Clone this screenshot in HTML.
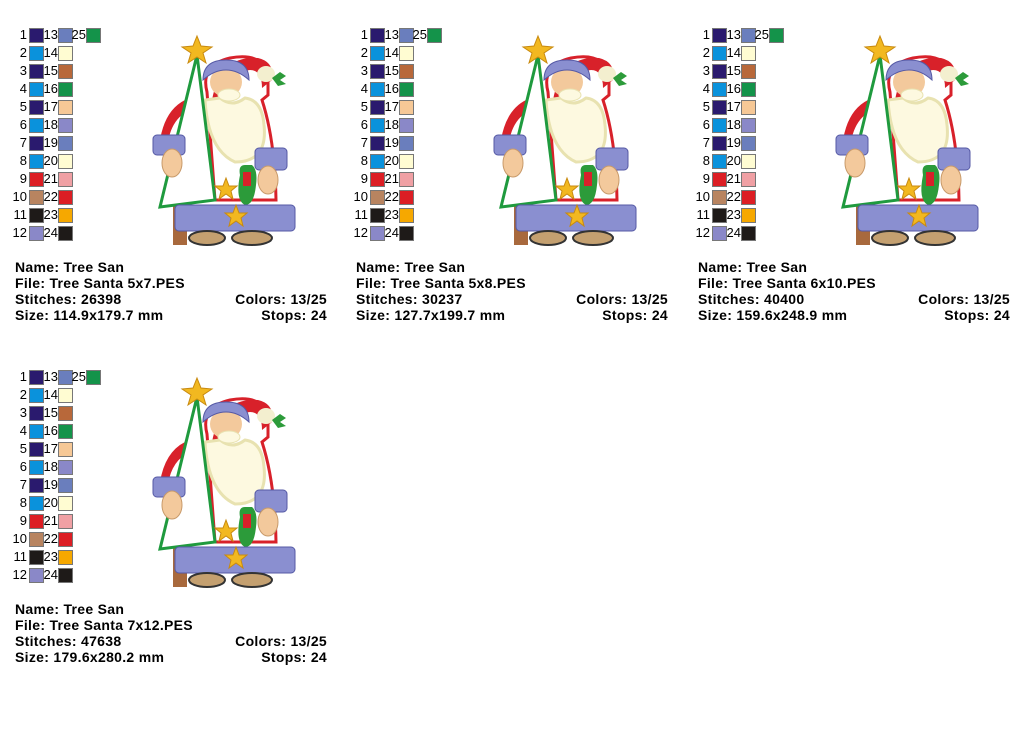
<!DOCTYPE html>
<html><head><meta charset="utf-8"><style>
body{margin:0;width:1024px;height:752px;background:#fff;position:relative;overflow:hidden;font-family:"Liberation Sans",Arial,sans-serif}
.p{position:absolute;width:340px;height:340px}
.r{position:absolute;left:0;height:18px;font-size:13px;line-height:16px;color:#000}
.n{position:absolute;text-align:right;width:15px}
.s{position:absolute;top:1px;width:13px;height:13px;border:1px solid #777}
.t{position:absolute;left:0;font-size:14px;font-weight:bold;line-height:16px;white-space:nowrap;letter-spacing:0.3px}
.rt{position:absolute;font-size:14px;font-weight:bold;line-height:16px;right:13px;text-align:right;white-space:nowrap;letter-spacing:0.3px}
svg{position:absolute;left:0;top:0}
</style></head><body>
<svg width="0" height="0" style="position:absolute">
<defs>
<g id="santa">
<rect x="173" y="195" width="14" height="50" fill="#a8693d"/>
<path d="M207 92 Q200 65 230 58 Q262 52 268 75 L268 95 L262 100 Q275 140 276 200 L215 200 Z" fill="#fff" stroke="#d8212a" stroke-width="3"/>
<path d="M160 140 Q165 110 185 100 L190 110 Q172 118 168 142 Z" fill="#d8212a"/>
<path d="M212 100 Q220 55 258 58 Q275 62 272 80 L262 88 Q262 70 250 70 Q230 72 222 100 Z" fill="#d8212a"/>
<ellipse cx="266" cy="74" rx="9" ry="8" fill="#f3efcf"/>
<path d="M272 78 l8 -6 l6 4 l-6 4 l6 4 l-8 2 Z" fill="#2c9b3a"/>
<path d="M205 100 Q208 150 235 162 Q268 162 264 125 Q262 100 245 98 Q232 108 220 98 Z" fill="#fdf9e0" stroke="#e8e2b0" stroke-width="3"/>
<ellipse cx="226" cy="82" rx="16" ry="15" fill="#f3c99c"/>
<path d="M203 80 Q203 60 226 60 Q249 60 249 80 Q238 70 226 70 Q214 70 203 80 Z" fill="#8a8fd0" stroke="#5559a5"/>
<ellipse cx="229" cy="95" rx="11" ry="6" fill="#fdf9e0" stroke="#e8e2b0"/>
<polygon points="197,55 160,207 215,200" fill="#fff" stroke="#1f9a3e" stroke-width="3"/>
<polygon points="197,36 201,46 212,47 203,53 206,63 197,57 188,63 191,53 182,47 193,46" fill="#f2b820" stroke="#c88a10"/>
<rect x="153" y="135" width="32" height="20" rx="4" fill="#8a8fd0" stroke="#5559a5"/>
<ellipse cx="172" cy="163" rx="10" ry="14" fill="#f3c99c" stroke="#c89a6a"/>
<rect x="255" y="148" width="32" height="22" rx="4" fill="#8a8fd0" stroke="#5559a5"/>
<ellipse cx="268" cy="180" rx="10" ry="14" fill="#f3c99c" stroke="#c89a6a"/>
<path d="M240 175 Q238 165 245 165 L252 165 Q258 170 256 185 Q254 205 245 205 Q235 200 240 175 Z" fill="#2c9b3a"/>
<rect x="243" y="172" width="8" height="14" fill="#d8212a"/>
<rect x="175" y="205" width="120" height="26" rx="4" fill="#8a8fd0" stroke="#5559a5"/>
<polygon points="226,178 229,186 237,186 231,191 233,199 226,194 219,199 221,191 215,186 223,186" fill="#f2b820" stroke="#c88a10"/>
<polygon points="236,205 239,213 247,213 241,218 243,226 236,221 229,226 231,218 225,213 233,213" fill="#f2b820" stroke="#c88a10"/>
<ellipse cx="207" cy="238" rx="18" ry="7" fill="#c4a070" stroke="#333" stroke-width="2"/>
<ellipse cx="252" cy="238" rx="20" ry="7" fill="#c4a070" stroke="#333" stroke-width="2"/>
</g>
</defs></svg>

<div class="p" style="left:0;top:0">
<svg width="340" height="340"><use href="#santa"/></svg>
<div class="r" style="top:27px;width:110px"><span class="n" style="left:12px">1</span><span class="s" style="left:29px;background:#2a1a6e"></span><span class="n" style="left:43px">13</span><span class="s" style="left:58px;background:#6a7ebd"></span><span class="n" style="left:71px">25</span><span class="s" style="left:86px;background:#14934a"></span></div>
<div class="r" style="top:45px;width:80px"><span class="n" style="left:12px">2</span><span class="s" style="left:29px;background:#0a92dc"></span><span class="n" style="left:43px">14</span><span class="s" style="left:58px;background:#fffcd2"></span></div>
<div class="r" style="top:63px;width:80px"><span class="n" style="left:12px">3</span><span class="s" style="left:29px;background:#2a1a6e"></span><span class="n" style="left:43px">15</span><span class="s" style="left:58px;background:#b8683a"></span></div>
<div class="r" style="top:81px;width:80px"><span class="n" style="left:12px">4</span><span class="s" style="left:29px;background:#0a92dc"></span><span class="n" style="left:43px">16</span><span class="s" style="left:58px;background:#14934a"></span></div>
<div class="r" style="top:99px;width:80px"><span class="n" style="left:12px">5</span><span class="s" style="left:29px;background:#2a1a6e"></span><span class="n" style="left:43px">17</span><span class="s" style="left:58px;background:#f6c896"></span></div>
<div class="r" style="top:117px;width:80px"><span class="n" style="left:12px">6</span><span class="s" style="left:29px;background:#0a92dc"></span><span class="n" style="left:43px">18</span><span class="s" style="left:58px;background:#8a88c8"></span></div>
<div class="r" style="top:135px;width:80px"><span class="n" style="left:12px">7</span><span class="s" style="left:29px;background:#2a1a6e"></span><span class="n" style="left:43px">19</span><span class="s" style="left:58px;background:#6a7ebd"></span></div>
<div class="r" style="top:153px;width:80px"><span class="n" style="left:12px">8</span><span class="s" style="left:29px;background:#0a92dc"></span><span class="n" style="left:43px">20</span><span class="s" style="left:58px;background:#fffcd2"></span></div>
<div class="r" style="top:171px;width:80px"><span class="n" style="left:12px">9</span><span class="s" style="left:29px;background:#dc1e24"></span><span class="n" style="left:43px">21</span><span class="s" style="left:58px;background:#f0a0a4"></span></div>
<div class="r" style="top:189px;width:80px"><span class="n" style="left:12px">10</span><span class="s" style="left:29px;background:#b88460"></span><span class="n" style="left:43px">22</span><span class="s" style="left:58px;background:#dc1e24"></span></div>
<div class="r" style="top:207px;width:80px"><span class="n" style="left:12px">11</span><span class="s" style="left:29px;background:#1e1a18"></span><span class="n" style="left:43px">23</span><span class="s" style="left:58px;background:#f6a800"></span></div>
<div class="r" style="top:225px;width:80px"><span class="n" style="left:12px">12</span><span class="s" style="left:29px;background:#8a88c8"></span><span class="n" style="left:43px">24</span><span class="s" style="left:58px;background:#1e1a18"></span></div>
<div class="t" style="left:15px;top:259px">Name: Tree San</div>
<div class="t" style="left:15px;top:275px">File: Tree Santa 5x7.PES</div>
<div class="t" style="left:15px;top:291px">Stitches: 26398</div>
<div class="t" style="left:15px;top:307px">Size: 114.9x179.7 mm</div>
<div class="rt" style="top:291px">Colors: 13/25</div>
<div class="rt" style="top:307px">Stops: 24</div>
</div>

<div class="p" style="left:341px;top:0">
<svg width="340" height="340"><use href="#santa"/></svg>
<div class="r" style="top:27px;width:110px"><span class="n" style="left:12px">1</span><span class="s" style="left:29px;background:#2a1a6e"></span><span class="n" style="left:43px">13</span><span class="s" style="left:58px;background:#6a7ebd"></span><span class="n" style="left:71px">25</span><span class="s" style="left:86px;background:#14934a"></span></div>
<div class="r" style="top:45px;width:80px"><span class="n" style="left:12px">2</span><span class="s" style="left:29px;background:#0a92dc"></span><span class="n" style="left:43px">14</span><span class="s" style="left:58px;background:#fffcd2"></span></div>
<div class="r" style="top:63px;width:80px"><span class="n" style="left:12px">3</span><span class="s" style="left:29px;background:#2a1a6e"></span><span class="n" style="left:43px">15</span><span class="s" style="left:58px;background:#b8683a"></span></div>
<div class="r" style="top:81px;width:80px"><span class="n" style="left:12px">4</span><span class="s" style="left:29px;background:#0a92dc"></span><span class="n" style="left:43px">16</span><span class="s" style="left:58px;background:#14934a"></span></div>
<div class="r" style="top:99px;width:80px"><span class="n" style="left:12px">5</span><span class="s" style="left:29px;background:#2a1a6e"></span><span class="n" style="left:43px">17</span><span class="s" style="left:58px;background:#f6c896"></span></div>
<div class="r" style="top:117px;width:80px"><span class="n" style="left:12px">6</span><span class="s" style="left:29px;background:#0a92dc"></span><span class="n" style="left:43px">18</span><span class="s" style="left:58px;background:#8a88c8"></span></div>
<div class="r" style="top:135px;width:80px"><span class="n" style="left:12px">7</span><span class="s" style="left:29px;background:#2a1a6e"></span><span class="n" style="left:43px">19</span><span class="s" style="left:58px;background:#6a7ebd"></span></div>
<div class="r" style="top:153px;width:80px"><span class="n" style="left:12px">8</span><span class="s" style="left:29px;background:#0a92dc"></span><span class="n" style="left:43px">20</span><span class="s" style="left:58px;background:#fffcd2"></span></div>
<div class="r" style="top:171px;width:80px"><span class="n" style="left:12px">9</span><span class="s" style="left:29px;background:#dc1e24"></span><span class="n" style="left:43px">21</span><span class="s" style="left:58px;background:#f0a0a4"></span></div>
<div class="r" style="top:189px;width:80px"><span class="n" style="left:12px">10</span><span class="s" style="left:29px;background:#b88460"></span><span class="n" style="left:43px">22</span><span class="s" style="left:58px;background:#dc1e24"></span></div>
<div class="r" style="top:207px;width:80px"><span class="n" style="left:12px">11</span><span class="s" style="left:29px;background:#1e1a18"></span><span class="n" style="left:43px">23</span><span class="s" style="left:58px;background:#f6a800"></span></div>
<div class="r" style="top:225px;width:80px"><span class="n" style="left:12px">12</span><span class="s" style="left:29px;background:#8a88c8"></span><span class="n" style="left:43px">24</span><span class="s" style="left:58px;background:#1e1a18"></span></div>
<div class="t" style="left:15px;top:259px">Name: Tree San</div>
<div class="t" style="left:15px;top:275px">File: Tree Santa 5x8.PES</div>
<div class="t" style="left:15px;top:291px">Stitches: 30237</div>
<div class="t" style="left:15px;top:307px">Size: 127.7x199.7 mm</div>
<div class="rt" style="top:291px">Colors: 13/25</div>
<div class="rt" style="top:307px">Stops: 24</div>
</div>

<div class="p" style="left:683px;top:0">
<svg width="340" height="340"><use href="#santa"/></svg>
<div class="r" style="top:27px;width:110px"><span class="n" style="left:12px">1</span><span class="s" style="left:29px;background:#2a1a6e"></span><span class="n" style="left:43px">13</span><span class="s" style="left:58px;background:#6a7ebd"></span><span class="n" style="left:71px">25</span><span class="s" style="left:86px;background:#14934a"></span></div>
<div class="r" style="top:45px;width:80px"><span class="n" style="left:12px">2</span><span class="s" style="left:29px;background:#0a92dc"></span><span class="n" style="left:43px">14</span><span class="s" style="left:58px;background:#fffcd2"></span></div>
<div class="r" style="top:63px;width:80px"><span class="n" style="left:12px">3</span><span class="s" style="left:29px;background:#2a1a6e"></span><span class="n" style="left:43px">15</span><span class="s" style="left:58px;background:#b8683a"></span></div>
<div class="r" style="top:81px;width:80px"><span class="n" style="left:12px">4</span><span class="s" style="left:29px;background:#0a92dc"></span><span class="n" style="left:43px">16</span><span class="s" style="left:58px;background:#14934a"></span></div>
<div class="r" style="top:99px;width:80px"><span class="n" style="left:12px">5</span><span class="s" style="left:29px;background:#2a1a6e"></span><span class="n" style="left:43px">17</span><span class="s" style="left:58px;background:#f6c896"></span></div>
<div class="r" style="top:117px;width:80px"><span class="n" style="left:12px">6</span><span class="s" style="left:29px;background:#0a92dc"></span><span class="n" style="left:43px">18</span><span class="s" style="left:58px;background:#8a88c8"></span></div>
<div class="r" style="top:135px;width:80px"><span class="n" style="left:12px">7</span><span class="s" style="left:29px;background:#2a1a6e"></span><span class="n" style="left:43px">19</span><span class="s" style="left:58px;background:#6a7ebd"></span></div>
<div class="r" style="top:153px;width:80px"><span class="n" style="left:12px">8</span><span class="s" style="left:29px;background:#0a92dc"></span><span class="n" style="left:43px">20</span><span class="s" style="left:58px;background:#fffcd2"></span></div>
<div class="r" style="top:171px;width:80px"><span class="n" style="left:12px">9</span><span class="s" style="left:29px;background:#dc1e24"></span><span class="n" style="left:43px">21</span><span class="s" style="left:58px;background:#f0a0a4"></span></div>
<div class="r" style="top:189px;width:80px"><span class="n" style="left:12px">10</span><span class="s" style="left:29px;background:#b88460"></span><span class="n" style="left:43px">22</span><span class="s" style="left:58px;background:#dc1e24"></span></div>
<div class="r" style="top:207px;width:80px"><span class="n" style="left:12px">11</span><span class="s" style="left:29px;background:#1e1a18"></span><span class="n" style="left:43px">23</span><span class="s" style="left:58px;background:#f6a800"></span></div>
<div class="r" style="top:225px;width:80px"><span class="n" style="left:12px">12</span><span class="s" style="left:29px;background:#8a88c8"></span><span class="n" style="left:43px">24</span><span class="s" style="left:58px;background:#1e1a18"></span></div>
<div class="t" style="left:15px;top:259px">Name: Tree San</div>
<div class="t" style="left:15px;top:275px">File: Tree Santa 6x10.PES</div>
<div class="t" style="left:15px;top:291px">Stitches: 40400</div>
<div class="t" style="left:15px;top:307px">Size: 159.6x248.9 mm</div>
<div class="rt" style="top:291px">Colors: 13/25</div>
<div class="rt" style="top:307px">Stops: 24</div>
</div>

<div class="p" style="left:0;top:342px">
<svg width="340" height="340"><use href="#santa"/></svg>
<div class="r" style="top:27px;width:110px"><span class="n" style="left:12px">1</span><span class="s" style="left:29px;background:#2a1a6e"></span><span class="n" style="left:43px">13</span><span class="s" style="left:58px;background:#6a7ebd"></span><span class="n" style="left:71px">25</span><span class="s" style="left:86px;background:#14934a"></span></div>
<div class="r" style="top:45px;width:80px"><span class="n" style="left:12px">2</span><span class="s" style="left:29px;background:#0a92dc"></span><span class="n" style="left:43px">14</span><span class="s" style="left:58px;background:#fffcd2"></span></div>
<div class="r" style="top:63px;width:80px"><span class="n" style="left:12px">3</span><span class="s" style="left:29px;background:#2a1a6e"></span><span class="n" style="left:43px">15</span><span class="s" style="left:58px;background:#b8683a"></span></div>
<div class="r" style="top:81px;width:80px"><span class="n" style="left:12px">4</span><span class="s" style="left:29px;background:#0a92dc"></span><span class="n" style="left:43px">16</span><span class="s" style="left:58px;background:#14934a"></span></div>
<div class="r" style="top:99px;width:80px"><span class="n" style="left:12px">5</span><span class="s" style="left:29px;background:#2a1a6e"></span><span class="n" style="left:43px">17</span><span class="s" style="left:58px;background:#f6c896"></span></div>
<div class="r" style="top:117px;width:80px"><span class="n" style="left:12px">6</span><span class="s" style="left:29px;background:#0a92dc"></span><span class="n" style="left:43px">18</span><span class="s" style="left:58px;background:#8a88c8"></span></div>
<div class="r" style="top:135px;width:80px"><span class="n" style="left:12px">7</span><span class="s" style="left:29px;background:#2a1a6e"></span><span class="n" style="left:43px">19</span><span class="s" style="left:58px;background:#6a7ebd"></span></div>
<div class="r" style="top:153px;width:80px"><span class="n" style="left:12px">8</span><span class="s" style="left:29px;background:#0a92dc"></span><span class="n" style="left:43px">20</span><span class="s" style="left:58px;background:#fffcd2"></span></div>
<div class="r" style="top:171px;width:80px"><span class="n" style="left:12px">9</span><span class="s" style="left:29px;background:#dc1e24"></span><span class="n" style="left:43px">21</span><span class="s" style="left:58px;background:#f0a0a4"></span></div>
<div class="r" style="top:189px;width:80px"><span class="n" style="left:12px">10</span><span class="s" style="left:29px;background:#b88460"></span><span class="n" style="left:43px">22</span><span class="s" style="left:58px;background:#dc1e24"></span></div>
<div class="r" style="top:207px;width:80px"><span class="n" style="left:12px">11</span><span class="s" style="left:29px;background:#1e1a18"></span><span class="n" style="left:43px">23</span><span class="s" style="left:58px;background:#f6a800"></span></div>
<div class="r" style="top:225px;width:80px"><span class="n" style="left:12px">12</span><span class="s" style="left:29px;background:#8a88c8"></span><span class="n" style="left:43px">24</span><span class="s" style="left:58px;background:#1e1a18"></span></div>
<div class="t" style="left:15px;top:259px">Name: Tree San</div>
<div class="t" style="left:15px;top:275px">File: Tree Santa 7x12.PES</div>
<div class="t" style="left:15px;top:291px">Stitches: 47638</div>
<div class="t" style="left:15px;top:307px">Size: 179.6x280.2 mm</div>
<div class="rt" style="top:291px">Colors: 13/25</div>
<div class="rt" style="top:307px">Stops: 24</div>
</div>
</body></html>
